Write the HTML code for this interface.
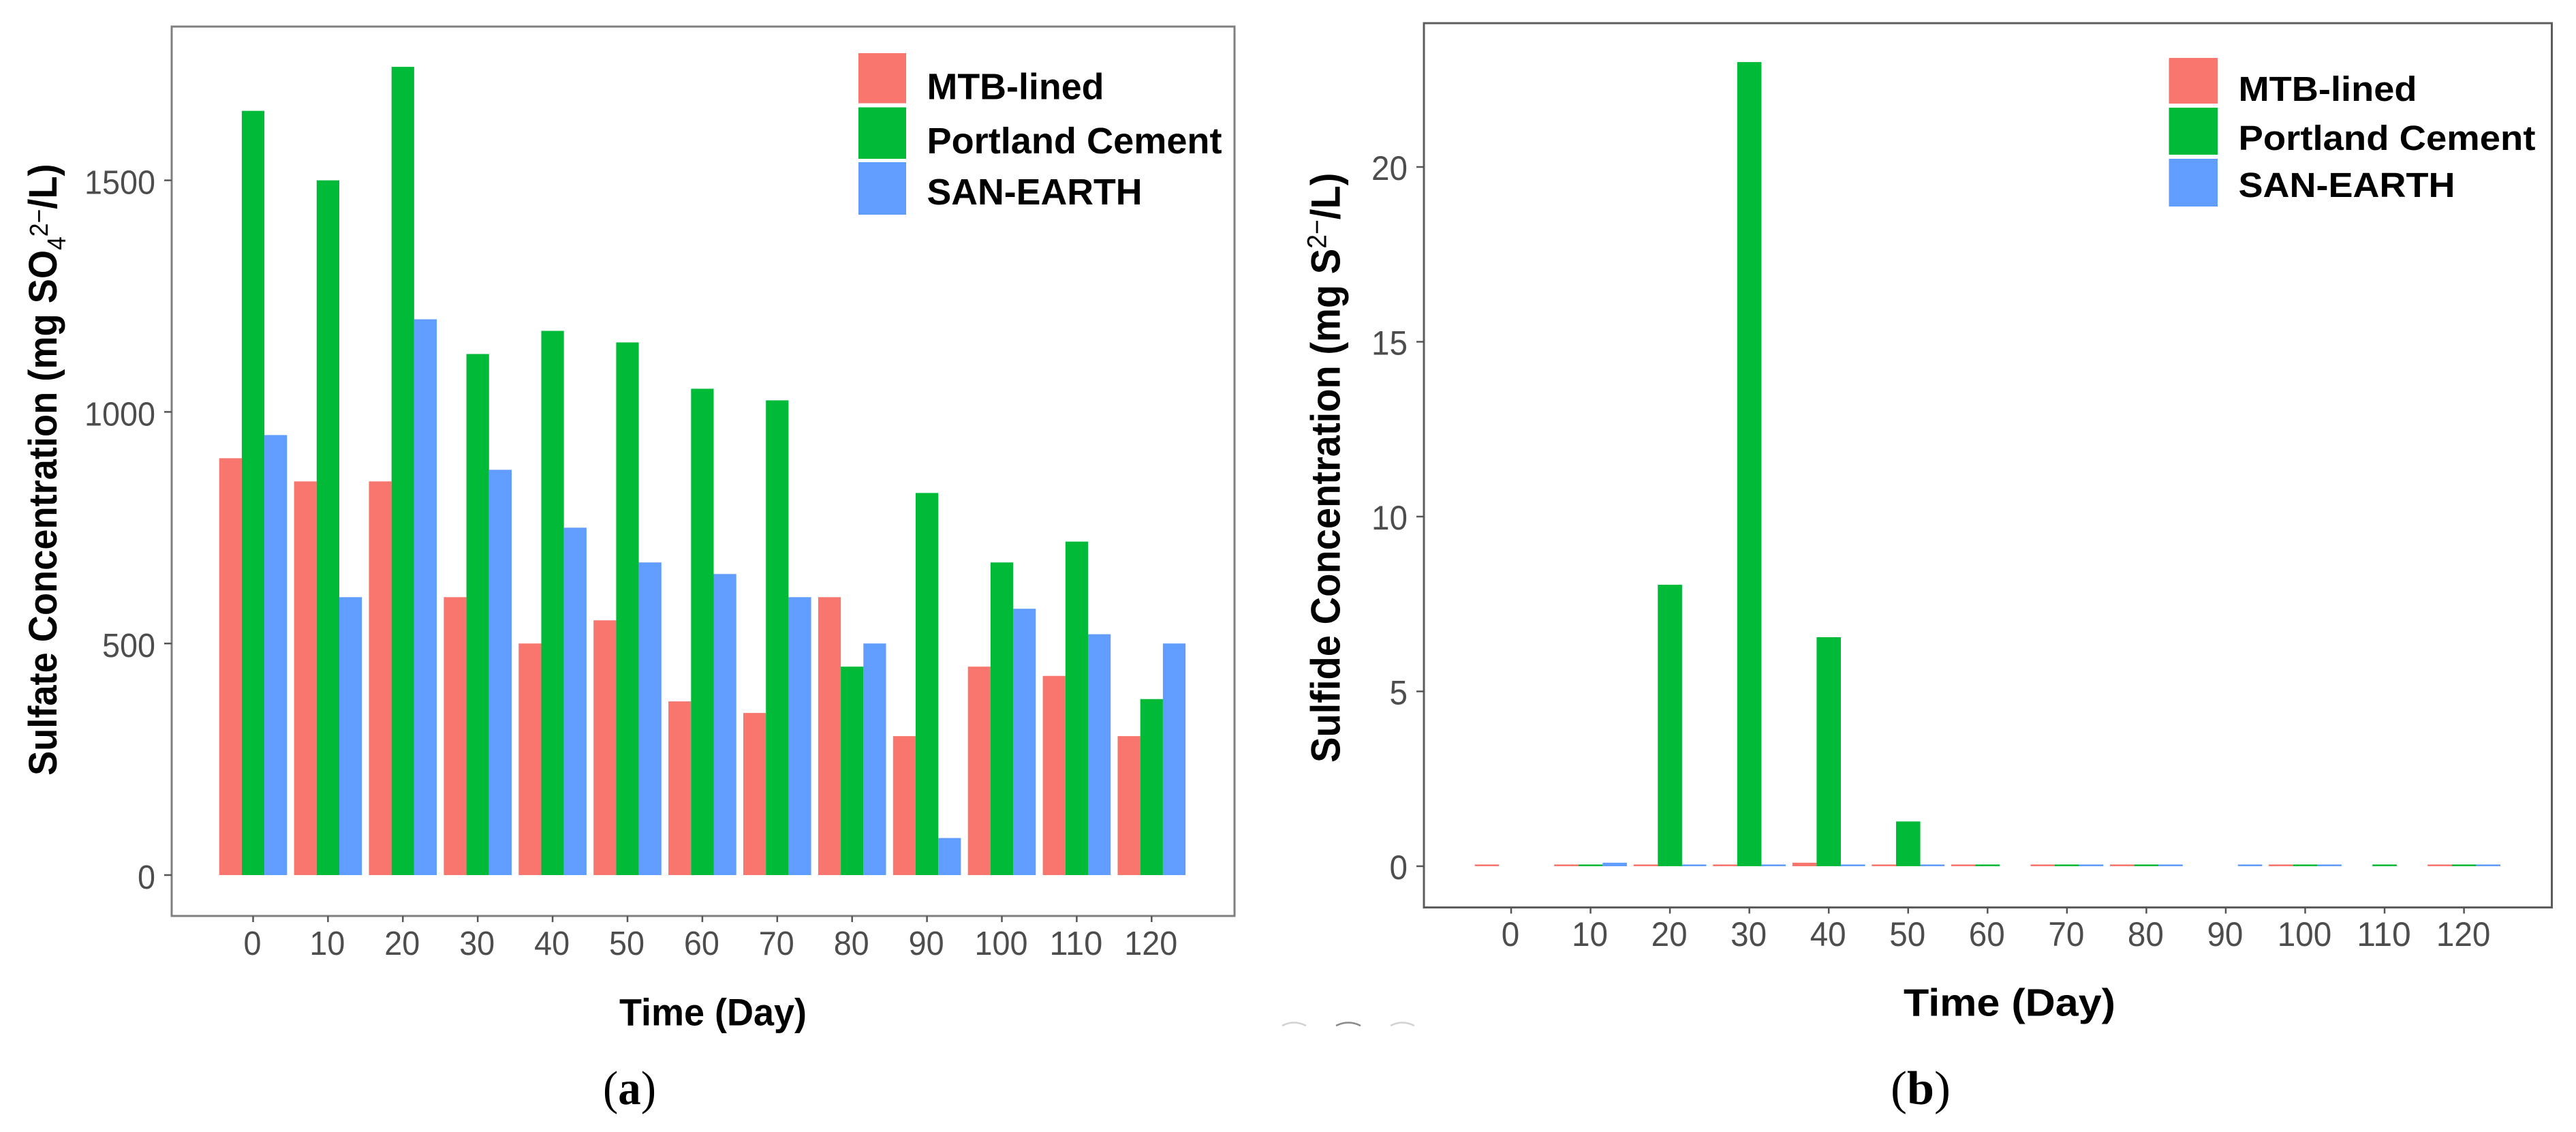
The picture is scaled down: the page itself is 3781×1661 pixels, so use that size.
<!DOCTYPE html>
<html lang="en">
<head>
<meta charset="utf-8">
<title>Sulfate and Sulfide Concentration</title>
<style>
html,body{margin:0;padding:0;background:#fff;width:3781px;height:1661px;overflow:hidden}
svg{display:block}
text{font-family:"Liberation Sans",Arial,sans-serif}
.legend-text{font-weight:700;fill:#000}
.axis-title{font-weight:700;fill:#000}
.caption{font-family:"Liberation Serif","Times New Roman",serif;fill:#000}
</style>
</head>
<body>
<svg id="figure" xmlns="http://www.w3.org/2000/svg" width="3781" height="1661" viewBox="0 0 3781 1661">
  <rect x="0" y="0" width="3781" height="1661" fill="#fff"/>

  <g id="panel-a">
    <rect x="252" y="39" width="1560" height="1305" fill="#fff" stroke="#7f7f7f" stroke-width="3"/>
    <g id="marks-a"></g>
    <g id="axes-a"></g>
    <g>
      <rect x="1260" y="78" width="70" height="73.5" fill="#F8766D"/>
      <rect x="1260" y="157.5" width="70" height="75.5" fill="#00BA38"/>
      <rect x="1260" y="238" width="70" height="77" fill="#619CFF"/>
      <text class="legend-text" x="1360.5" y="145.5" font-size="54" textLength="260" lengthAdjust="spacingAndGlyphs">MTB-lined</text>
      <text class="legend-text" x="1360.5" y="225" font-size="54" textLength="433" lengthAdjust="spacingAndGlyphs">Portland Cement</text>
      <text class="legend-text" x="1360.5" y="300" font-size="54" textLength="316" lengthAdjust="spacingAndGlyphs">SAN-EARTH</text>
    </g>
    <text class="axis-title" transform="translate(83,1138) rotate(-90) scale(0.935,1)" font-size="58">Sulfate Concentration (mg SO<tspan font-size="38" font-weight="400" dy="13">4</tspan><tspan font-size="38" font-weight="400" dy="-26">2−</tspan><tspan dy="13">/L)</tspan></text>
    <text class="axis-title" x="909" y="1504.5" font-size="56" textLength="275" lengthAdjust="spacingAndGlyphs">Time (Day)</text>
    <text class="caption" x="885" y="1620" font-size="70" textLength="78" lengthAdjust="spacingAndGlyphs">(<tspan font-weight="700">a</tspan>)</text>
  </g>

  <g fill="none" stroke-width="2.5">
    <path d="M1882 1505 Q1899 1496 1917 1505" stroke="#d2d2d2"/>
    <path d="M1961 1505 Q1979 1496 1997 1505" stroke="#8a8a8a"/>
    <path d="M2041 1505 Q2058 1496 2076 1505" stroke="#d2d2d2"/>
  </g>

  <g id="panel-b">
    <rect x="2090" y="34" width="1655.5" height="1297.5" fill="#fff" stroke="#5c5c5c" stroke-width="3"/>
    <g id="marks-b"></g>
    <g id="axes-b"></g>
    <g>
      <rect x="3183.5" y="85" width="71.5" height="67" fill="#F8766D"/>
      <rect x="3183.5" y="158" width="71.5" height="69" fill="#00BA38"/>
      <rect x="3183.5" y="233" width="71.5" height="70" fill="#619CFF"/>
      <text class="legend-text" x="3285.5" y="148" font-size="51" textLength="262" lengthAdjust="spacingAndGlyphs">MTB-lined</text>
      <text class="legend-text" x="3285.5" y="220" font-size="51" textLength="436" lengthAdjust="spacingAndGlyphs">Portland Cement</text>
      <text class="legend-text" x="3285.5" y="289" font-size="51" textLength="318" lengthAdjust="spacingAndGlyphs">SAN-EARTH</text>
    </g>
    <text class="axis-title" transform="translate(1966.5,1119) rotate(-90) scale(0.935,1)" font-size="60">Sulfide Concentration (mg S<tspan font-size="40" font-weight="400" dy="-20">2−</tspan><tspan dy="20">/L)</tspan></text>
    <text class="axis-title" x="2794" y="1490.5" font-size="57" textLength="311" lengthAdjust="spacingAndGlyphs">Time (Day)</text>
    <text class="caption" x="2775" y="1620" font-size="70" textLength="88" lengthAdjust="spacingAndGlyphs">(<tspan font-weight="700">b</tspan>)</text>
  </g>
</svg>

<script>
const categories = [0, 10, 20, 30, 40, 50, 60, 70, 80, 90, 100, 110, 120];
const seriesNames = ['mtb-lined', 'portland-cement', 'san-earth'];
const seriesColors = ['#F8766D', '#00BA38', '#619CFF'];

const sulfateMtb = [900, 850, 850, 600, 500, 550, 375, 350, 600, 300, 450, 430, 300];
const sulfateCement = [1650, 1500, 1745, 1125, 1175, 1150, 1050, 1025, 450, 825, 675, 720, 380];
const sulfateSan = [950, 600, 1200, 875, 750, 675, 650, 600, 500, 80, 575, 520, 500];
const sulfateTicks = [0, 500, 1000, 1500];

const sulfideMtb = [0.05, 0.05, 0.05, 0.05, 0.1, 0.05, 0.05, 0.05, 0.05, 0, 0.05, 0, 0.05];
const sulfideCement = [0, 0.05, 8.05, 23, 6.55, 1.28, 0.05, 0.05, 0.05, 0, 0.05, 0.05, 0.05];
const sulfideSan = [0, 0.1, 0.05, 0.05, 0.05, 0.05, 0, 0.05, 0.05, 0.05, 0.05, 0, 0.05];
const sulfideTicks = [0, 5, 10, 15, 20];

const SVG_NS = 'http://www.w3.org/2000/svg';

function xScaleA(t) { return 371.5 + 10.99 * t; }
function yScaleA(v) { return 1284 - 0.6796 * v; }
function xScaleB(t) { return 2218 + 11.655 * t; }
function yScaleB(v) { return 1271 - 51.3 * v; }

function drawBars(target, prefix, series, xScale, yScale, barWidth) {
  series.forEach(function (values, s) {
    values.forEach(function (value, c) {
      if (!value) return;
      const rect = document.createElementNS(SVG_NS, 'rect');
      
      
      rect.setAttribute('data-series', prefix + '-' + seriesNames[s]);
      rect.setAttribute('data-category', categories[c]);
      rect.setAttribute('x', xScale(categories[c]) + (s - 1.5) * barWidth);
      rect.setAttribute('y', yScale(value));
      rect.setAttribute('width', barWidth);
      rect.setAttribute('height', yScale(0) - yScale(value));
      rect.setAttribute('fill', seriesColors[s]);
      target.appendChild(rect);
    });
  });
}

function drawLine(target, x1, y1, x2, y2, color) {
  const line = document.createElementNS(SVG_NS, 'line');
  
  
  line.setAttribute('x1', x1);
  line.setAttribute('y1', y1);
  line.setAttribute('x2', x2);
  line.setAttribute('y2', y2);
  line.setAttribute('stroke', color);
  line.setAttribute('stroke-width', '2.5');
  target.appendChild(line);
}

function drawLabel(target, x, y, anchor, size, digitWidth, value) {
  const text = document.createElementNS(SVG_NS, 'text');
  
  
  text.setAttribute('x', x);
  text.setAttribute('y', y);
  text.setAttribute('text-anchor', anchor);
  text.setAttribute('font-size', size);
  text.setAttribute('textLength', String(value).length * digitWidth);
  text.setAttribute('lengthAdjust', 'spacingAndGlyphs');
  text.setAttribute('fill', '#4d4d4d');
  text.textContent = value;
  target.appendChild(text);
}

function drawAxes(target, opts) {
  opts.yTicks.forEach(function (v) {
    const y = opts.yScale(v);
    drawLine(target, opts.left - 11, y, opts.left, y, '#555');
    drawLabel(target, opts.left - 24, y + opts.yLabelShift, 'end', opts.fontSize, opts.digitWidth, v);
  });
  categories.forEach(function (t) {
    const x = opts.xScale(t);
    drawLine(target, x, opts.bottom, x, opts.bottom + 9, '#555');
    drawLabel(target, x - 1, opts.xLabelBase, 'middle', opts.fontSize, opts.digitWidth, t);
  });
}

drawBars(document.getElementById('marks-a'), 'sulfate', [sulfateMtb, sulfateCement, sulfateSan], xScaleA, yScaleA, 33.2);
drawAxes(document.getElementById('axes-a'), {
  yTicks: sulfateTicks, yScale: yScaleA, xScale: xScaleA,
  left: 252, bottom: 1344, yLabelShift: 20, xLabelBase: 1401, fontSize: 49, digitWidth: 26
});

drawBars(document.getElementById('marks-b'), 'sulfide', [sulfideMtb, sulfideCement, sulfideSan], xScaleB, yScaleB, 35.6);
drawAxes(document.getElementById('axes-b'), {
  yTicks: sulfideTicks, yScale: yScaleB, xScale: xScaleB,
  left: 2090, bottom: 1331.5, yLabelShift: 19, xLabelBase: 1388, fontSize: 50, digitWidth: 26.5
});
</script>
</body>
</html>
